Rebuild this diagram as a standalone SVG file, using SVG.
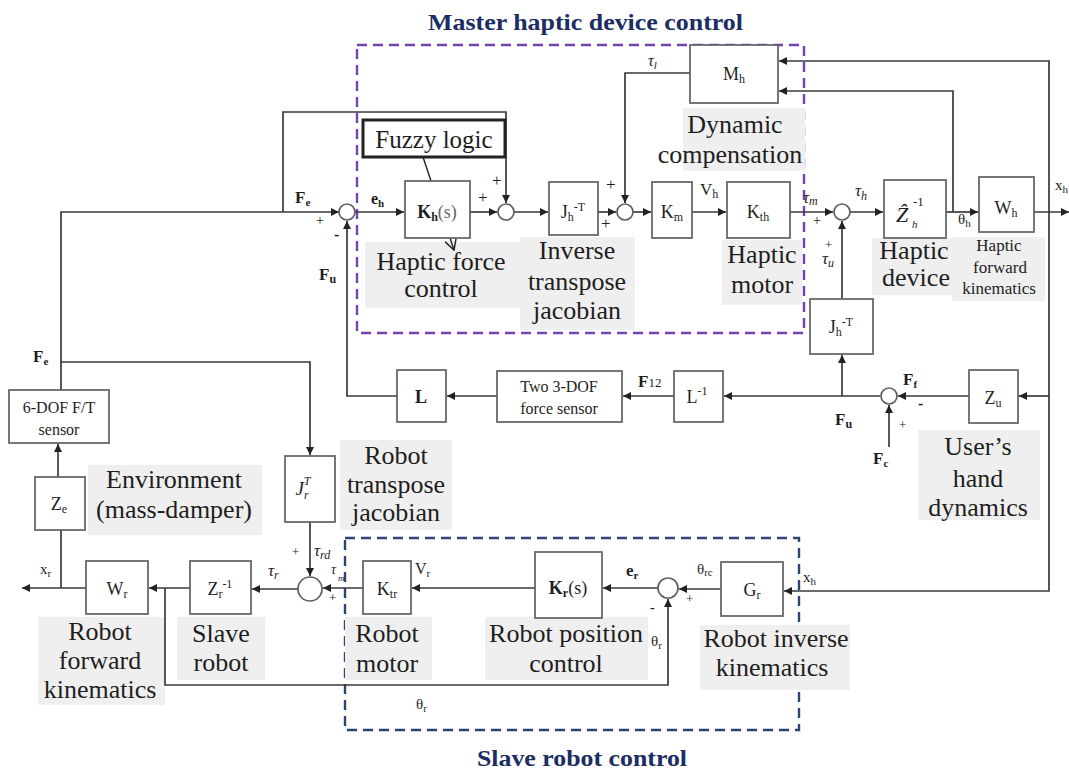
<svg xmlns="http://www.w3.org/2000/svg" width="1069" height="771" viewBox="0 0 1069 771">
<defs>
<marker id="ah" viewBox="0 0 10 10" refX="10" refY="5" markerWidth="9" markerHeight="8" markerUnits="userSpaceOnUse" orient="auto"><path d="M0,0 L10,5 L0,10 z" fill="#222"/></marker>
<marker id="oa" viewBox="0 0 12 12" refX="11" refY="6" markerWidth="12" markerHeight="12" markerUnits="userSpaceOnUse" orient="auto"><path d="M0,0 L11,6 L0,12" fill="none" stroke="#222" stroke-width="1.5"/></marker>
<style>
.ln{stroke:#3a3a3a;stroke-width:1.7;fill:none}
.ar{marker-end:url(#ah)}
.bx{fill:#fff;stroke:#606060;stroke-width:1.7}
.sum{fill:#fff;stroke:#606060;stroke-width:1.7}
.bg{fill:#efefef}
.t{font-family:"Liberation Serif","DejaVu Serif",serif;fill:#1e1e1e}
.lb{font-size:26px;text-anchor:middle}
.sy{font-size:18px;text-anchor:middle}
.sml{font-size:16px;text-anchor:middle}
.ttl{font-family:"Liberation Serif","DejaVu Serif",serif;font-weight:bold;font-size:23px;fill:#1b2d63}
.dp{fill:none;stroke:#7a3fb0;stroke-width:2.4;stroke-dasharray:10 6}
.dn{fill:none;stroke:#2c4670;stroke-width:2.4;stroke-dasharray:10 6}
</style>
</defs>
<rect width="1069" height="771" fill="#fff"/>

<!-- titles and group frames -->
<text class="ttl" x="428" y="30" textLength="315" lengthAdjust="spacingAndGlyphs">Master haptic device control</text>
<text class="ttl" x="477" y="766" textLength="210" lengthAdjust="spacingAndGlyphs">Slave robot control</text>
<rect class="dp" x="357" y="45" width="447" height="288"/>
<rect class="dn" x="345" y="538" width="454" height="192"/>

<!-- label backgrounds -->
<g id="labels">
<rect class="bg" x="683" y="108" width="122" height="63"/>
<rect class="bg" x="365" y="242" width="157" height="66"/>
<rect class="bg" x="520" y="237" width="115" height="93"/>
<rect class="bg" x="722" y="240" width="80" height="65"/>
<rect class="bg" x="872" y="238" width="84" height="57"/>
<rect class="bg" x="952" y="237" width="93" height="64"/>
<rect class="bg" x="918" y="430" width="122" height="90"/>
<rect class="bg" x="88" y="465" width="174" height="70"/>
<rect class="bg" x="340" y="440" width="112" height="90"/>
<rect class="bg" x="38" y="617" width="127" height="88"/>
<rect class="bg" x="177" y="617" width="88" height="63"/>
<rect class="bg" x="345" y="617" width="87" height="63"/>
<rect class="bg" x="485" y="617" width="163" height="63"/>
<rect class="bg" x="700" y="625" width="150" height="65"/>

<text class="t lb" x="735" y="133">Dynamic</text>
<text class="t lb" x="730" y="163">compensation</text>
<text class="t lb" x="441" y="270">Haptic force</text>
<text class="t lb" x="441" y="297">control</text>
<text class="t lb" x="577" y="259">Inverse</text>
<text class="t lb" x="577" y="290">transpose</text>
<text class="t lb" x="577" y="319">jacobian</text>
<text class="t lb" x="762" y="263">Haptic</text>
<text class="t lb" x="762" y="293">motor</text>
<text class="t lb" x="914" y="259">Haptic</text>
<text class="t lb" x="916" y="286">device</text>
<text class="t sml" x="999" y="251" style="font-size:17px">Haptic</text>
<text class="t sml" x="1000" y="273" style="font-size:17px">forward</text>
<text class="t sml" x="999" y="294" style="font-size:17px">kinematics</text>
<text class="t lb" x="978" y="455">User’s</text>
<text class="t lb" x="978" y="487">hand</text>
<text class="t lb" x="978" y="516">dynamics</text>
<text class="t lb" x="174" y="488">Environment</text>
<text class="t lb" x="174" y="518">(mass-damper)</text>
<text class="t lb" x="396" y="464">Robot</text>
<text class="t lb" x="396" y="493">transpose</text>
<text class="t lb" x="396" y="521">jacobian</text>
<text class="t lb" x="100" y="640">Robot</text>
<text class="t lb" x="100" y="669">forward</text>
<text class="t lb" x="100" y="698">kinematics</text>
<text class="t lb" x="221" y="642">Slave</text>
<text class="t lb" x="221" y="671">robot</text>
<text class="t lb" x="387" y="642">Robot</text>
<text class="t lb" x="387" y="672">motor</text>
<text class="t lb" x="566" y="642">Robot position</text>
<text class="t lb" x="566" y="672">control</text>
<text class="t lb" x="776" y="647">Robot inverse</text>
<text class="t lb" x="772" y="676">kinematics</text>
</g>

<!-- connectors -->
<g id="connectors">
<path class="ln ar" d="M61,390 V212 H339"/>
<path class="ln ar" d="M61,362 H310 V455"/>
<path class="ln ar" d="M283,212 V112 H506 V203"/>
<path class="ln ar" d="M355,212 H404"/>
<path class="ln ar" d="M470,212 H497"/>
<path class="ln ar" d="M514,212 H548"/>
<path class="ln ar" d="M598,212 H616"/>
<path class="ln ar" d="M690,73 H625 V203"/>
<path class="ln ar" d="M633,212 H651"/>
<path class="ln ar" d="M692,212 H726"/>
<path class="ln ar" d="M790,212 H833"/>
<path class="ln ar" d="M850,212 H883"/>
<path class="ln ar" d="M946,212 H978"/>
<path class="ln ar" d="M953,212 V91 H779"/>
<path class="ln ar" d="M1034,212 H1069"/>
<path class="ln ar" d="M1049,212 V61 H779"/>
<path class="ln ar" d="M1049,212 V591 H784"/>
<path class="ln ar" d="M1049,396 H1019"/>
<path class="ln ar" d="M842,299 V221"/>
<path class="ln ar" d="M842,396 V355"/>
<path class="ln ar" d="M969,396 H898"/>
<path class="ln ar" d="M889,447 V405"/>
<path class="ln ar" d="M880,396 H724"/>
<path class="ln ar" d="M674,396 H623"/>
<path class="ln ar" d="M497,396 H447"/>
<path class="ln ar" d="M397,396 H347 V221"/>
<path class="ln ar" d="M58,477 V444"/>
<path class="ln ar" d="M86,588 H22"/>
<path class="ln" d="M61,588 V530"/>
<path class="ln ar" d="M190,588 H149"/>
<path class="ln ar" d="M165,588 V685 H668 V599"/>
<path class="ln ar" d="M298,589 H252"/>
<path class="ln ar" d="M310,522 V576"/>
<path class="ln ar" d="M363,588 H323"/>
<path class="ln ar" d="M535,588 H412"/>
<path class="ln ar" d="M658,588 H603"/>
<path class="ln ar" d="M721,589 H679"/>
<path class="ln" d="M423,157 L454,250" style="marker-end:url(#oa);stroke:#222;stroke-width:1.4"/>
</g>

<!-- summing junctions -->
<g id="sum1"><circle class="sum" cx="347" cy="212" r="8"/></g>
<g id="sum2"><circle class="sum" cx="506" cy="212" r="8"/></g>
<g id="sum3"><circle class="sum" cx="625" cy="212" r="8"/></g>
<g id="sum4"><circle class="sum" cx="842" cy="212" r="8"/></g>
<g id="sum5"><circle class="sum" cx="889" cy="396" r="8"/></g>
<g id="sum6"><circle class="sum" cx="310" cy="589" r="12"/></g>
<g id="sum7"><circle class="sum" cx="668" cy="588" r="10"/></g>

<!-- blocks -->
<g id="fuzzy"><rect x="363" y="120" width="142" height="37" fill="#fff" stroke="#222" stroke-width="3"/><text class="t lb" x="434" y="148" style="font-size:25px">Fuzzy logic</text></g>
<g id="Kh"><rect class="bx" x="405" y="181" width="65" height="57"/><text class="t sy" x="437" y="218"><tspan font-weight="bold">K</tspan><tspan font-weight="bold" font-size="12" dy="3">h</tspan><tspan dy="-3" fill="#666">(s)</tspan></text></g>
<g id="JhT"><rect class="bx" x="549" y="182" width="49" height="53"/><text class="t sy" x="573" y="218">J<tspan font-size="12" dy="3">h</tspan><tspan font-size="12" dy="-10">-T</tspan></text></g>
<g id="Mh"><rect class="bx" x="690" y="45" width="88" height="58"/><text class="t sy" x="734" y="80">M<tspan font-size="12" dy="3">h</tspan></text></g>
<g id="Km"><rect class="bx" x="652" y="182" width="40" height="56"/><text class="t sy" x="672" y="218">K<tspan font-size="12" dy="3">m</tspan></text></g>
<g id="Kth"><rect class="bx" x="727" y="182" width="63" height="56"/><text class="t sy" x="758" y="218">K<tspan font-size="12" dy="3">th</tspan></text></g>
<g id="Zh"><rect class="bx" x="884" y="180" width="62" height="58"/><text class="t" x="896" y="222" font-size="22" font-style="italic">Ẑ</text><text class="t" x="913" y="206" font-size="13">-1</text><text class="t" x="912" y="228" font-size="11" font-style="italic">h</text></g>
<g id="Wh"><rect class="bx" x="979" y="177" width="55" height="55"/><text class="t sy" x="1006" y="214">W<tspan font-size="12" dy="3">h</tspan></text></g>
<g id="JhT2"><rect class="bx" x="810" y="299" width="63" height="55"/><text class="t sy" x="841" y="333">J<tspan font-size="12" dy="3">h</tspan><tspan font-size="12" dy="-10">-T</tspan></text></g>
<g id="Zu"><rect class="bx" x="969" y="370" width="49" height="53"/><text class="t sy" x="993" y="404">Z<tspan font-size="12" dy="3">u</tspan></text></g>
<g id="Linv"><rect class="bx" x="674" y="371" width="49" height="51"/><text class="t sy" x="697" y="403">L<tspan font-size="12" dy="-8">-1</tspan></text></g>
<g id="sensor2"><rect class="bx" x="497" y="371" width="125" height="51"/><text class="t sml" x="559" y="392">Two 3-DOF</text><text class="t sml" x="559" y="414">force sensor</text></g>
<g id="L"><rect class="bx" x="397" y="370" width="49" height="52"/><text class="t sy" x="421" y="403" font-weight="bold">L</text></g>
<g id="sensor6"><rect class="bx" x="9" y="390" width="100" height="53"/><text class="t sml" x="59" y="413">6-DOF F/T</text><text class="t sml" x="59" y="435">sensor</text></g>
<g id="Ze"><rect class="bx" x="35" y="477" width="50" height="53"/><text class="t sy" x="59" y="510">Z<tspan font-size="12" dy="3">e</tspan></text></g>
<g id="JrT"><rect class="bx" x="285" y="456" width="50" height="66"/><text class="t" x="303" y="495" font-size="19" font-style="italic" text-anchor="middle">J<tspan font-size="12" dy="4">r</tspan><tspan font-size="12" dx="-5" dy="-14">T</tspan></text></g>
<g id="Wr"><rect class="bx" x="86" y="561" width="62" height="53"/><text class="t sy" x="117" y="595">W<tspan font-size="12" dy="3">r</tspan></text></g>
<g id="Zr"><rect class="bx" x="190" y="561" width="61" height="53"/><text class="t sy" x="220" y="595">Z<tspan font-size="12" dy="3">r</tspan><tspan font-size="12" dy="-10">-1</tspan></text></g>
<g id="Ktr"><rect class="bx" x="363" y="561" width="48" height="53"/><text class="t sy" x="387" y="595">K<tspan font-size="12" dy="3">tr</tspan></text></g>
<g id="Kr"><rect class="bx" x="535" y="552" width="67" height="66"/><text class="t sy" x="568" y="594"><tspan font-weight="bold">K</tspan><tspan font-weight="bold" font-size="12" dy="3">r</tspan><tspan dy="-3">(s)</tspan></text></g>
<g id="Gr"><rect class="bx" x="721" y="562" width="62" height="54"/><text class="t sy" x="752" y="596">G<tspan font-size="12" dy="3">r</tspan></text></g>

<!-- signal labels -->
<g id="signals" class="t">
<text x="295" y="203" font-size="17" font-weight="bold">F<tspan font-size="11" dy="3">e</tspan></text>
<text x="316" y="225" font-size="14">+</text>
<text x="334" y="240" font-size="16" font-weight="bold">-</text>
<text x="319" y="280" font-size="17" font-weight="bold">F<tspan font-size="12" dy="3">u</tspan></text>
<text x="371" y="204" font-size="16" font-weight="bold">e<tspan font-size="11" dy="3">h</tspan></text>
<text x="478" y="203" font-size="17">+</text>
<text x="492" y="186" font-size="17">+</text>
<text x="606" y="190" font-size="17">+</text>
<text x="601" y="229" font-size="17">+</text>
<text x="648" y="66" font-size="16" font-style="italic">τ<tspan font-size="11" dy="3">l</tspan></text>
<text x="700" y="195" font-size="17">V<tspan font-size="12" dy="3">h</tspan></text>
<text x="803" y="203" font-size="17" font-style="italic">τ<tspan font-size="12" dy="2">m</tspan></text>
<text x="813" y="225" font-size="14">+</text>
<text x="855" y="196" font-size="17" font-style="italic">τ<tspan font-size="12" dy="4">h</tspan></text>
<text x="825" y="249" font-size="13">+</text>
<text x="822" y="264" font-size="17" font-style="italic">τ<tspan font-size="12" dy="3">u</tspan></text>
<text x="958" y="224" font-size="15">θ<tspan font-size="11" dy="3">h</tspan></text>
<text x="1055" y="190" font-size="15">x<tspan font-size="11" dy="3">h</tspan></text>
<text x="638" y="387" font-size="17" font-weight="bold">F<tspan font-size="13" font-weight="normal">12</tspan></text>
<text x="903" y="385" font-size="17" font-weight="bold">F<tspan font-size="11" dy="3">f</tspan></text>
<text x="918" y="409" font-size="16" font-weight="bold">-</text>
<text x="899" y="429" font-size="13">+</text>
<text x="835" y="425" font-size="17" font-weight="bold">F<tspan font-size="12" dy="3">u</tspan></text>
<text x="873" y="464" font-size="17" font-weight="bold">F<tspan font-size="11" dy="3">c</tspan></text>
<text x="33" y="362" font-size="17" font-weight="bold">F<tspan font-size="11" dy="3">e</tspan></text>
<text x="40" y="574" font-size="15">x<tspan font-size="11" dy="3">r</tspan></text>
<text x="268" y="576" font-size="17" font-style="italic">τ<tspan font-size="12" dy="3">r</tspan></text>
<text x="292" y="556" font-size="13">+</text>
<text x="314" y="556" font-size="17" font-style="italic">τ<tspan font-size="12" dy="3">rd</tspan></text>
<text x="331" y="574" font-size="14" font-style="italic">τ</text>
<text x="338" y="581" font-size="9" font-style="italic">m</text>
<text x="329" y="602" font-size="13">+</text>
<text x="415" y="574" font-size="16">V<tspan font-size="11" dy="3">r</tspan></text>
<text x="626" y="576" font-size="17" font-weight="bold">e<tspan font-size="11" dy="3">r</tspan></text>
<text x="697" y="574" font-size="15">θ<tspan font-size="11" dy="2">rc</tspan></text>
<text x="686" y="603" font-size="13">+</text>
<text x="650" y="612" font-size="14" font-weight="bold">-</text>
<text x="651" y="646" font-size="15">θ<tspan font-size="11" dy="3">r</tspan></text>
<text x="416" y="709" font-size="15">θ<tspan font-size="11" dy="3">r</tspan></text>
<text x="803" y="582" font-size="15">x<tspan font-size="11" dy="3">h</tspan></text>
</g>
</svg>
